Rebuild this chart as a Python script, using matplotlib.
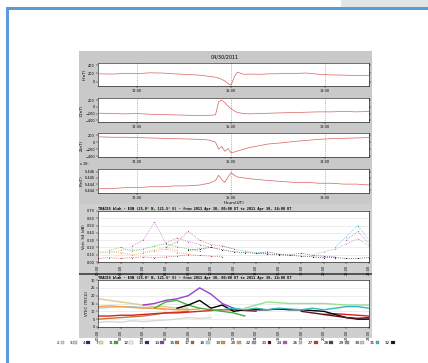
import numpy as np
import matplotlib
matplotlib.use('Agg')
from matplotlib import pyplot as plt
from matplotlib.patches import Rectangle, Patch

n = np.nan

# ---- magnetometer panels (hours UT) ----
hours = [10.8, 11.2, 11.6, 12.0, 12.4, 12.8, 13.2, 13.6, 14.0, 14.3,
         14.5, 14.6, 14.7, 14.8, 14.9, 15.0, 15.1, 15.2, 15.4, 15.6,
         15.9, 16.2, 16.6, 17.0, 17.4, 17.8, 18.2, 18.6, 19.0, 19.4]
h_nt = [190, 185, 200, 195, 215, 210, 190, 175, 160, 130, 110, 90, 60, 20, -40,
        -80, 120, 230, 180, 185, 180, 190, 195, 200, 210, 180, 165, 160, 150, 155]
d_nt = [-190, -200, -210, -200, -220, -230, -240, -250, -260, -250, -240, 150, 200, 120, 20,
        -60, -120, -170, -200, -210, -200, -190, -180, -170, -160, -150, -150, -140, -150, -140]
z_nt = [150, 140, 140, 130, 120, 110, 100, 90, 80, 60, 0, -200, -120, -260, -180,
        -300, -280, -250, -200, -150, -100, -50, -20, 20, 50, 80, 100, 110, 120, 130]
f_nt = [54437, 54437, 54438, 54438, 54439, 54439, 54440, 54440, 54441, 54443, 54446, 54452, 54447, 54444, 54450,
        54455, 54452, 54450, 54449, 54448, 54447, 54446, 54445, 54444, 54444, 54443, 54443, 54442, 54442, 54441]
mag_ticks = [12, 15, 18]
mag_labels = ['12:00', '15:00', '18:00']

# ---- GPS panels (hours of day) ----
t_day = list(range(0, 25))
day_ticks = list(range(0, 25, 2))
day_labels = [f'{h:02d}:00' for h in day_ticks]

s4 = {
    '27': [0.05, 0.06, 0.05, 0.06, 0.07, 0.06, 0.07, 0.08, 0.10, 0.09, 0.08, 0.07, n, n, n, n, n, n, n, n, n, n, n, n, n],
    '11': [n, 0.16, 0.20, 0.15, 0.18, 0.22, 0.25, 0.21, 0.18, 0.15, n, n, n, n, n, n, n, n, n, n, n, n, n, n, n],
    '24': [n, n, n, 0.22, 0.30, 0.55, 0.26, 0.33, 0.28, 0.24, 0.20, n, n, n, n, n, n, n, n, n, n, n, 0.30, 0.42, 0.25],
    '19': [0.12, 0.14, 0.13, 0.10, 0.12, 0.15, 0.18, 0.13, 0.11, n, n, n, n, n, n, n, n, n, n, n, n, n, n, n, n],
    '32': [n, n, n, n, n, n, n, n, 0.16, 0.18, 0.20, 0.17, 0.14, 0.13, 0.12, 0.11, 0.10, 0.09, 0.08, 0.07, 0.06, 0.06, 0.05, 0.05, 0.06],
    '31': [n, n, n, n, n, n, n, n, n, n, n, 0.22, 0.18, 0.15, 0.13, 0.12, n, n, n, n, n, 0.20, 0.35, 0.50, 0.30],
    '13': [n, n, n, n, n, n, n, n, n, n, n, n, n, n, 0.12, 0.14, 0.11, 0.10, 0.12, 0.09, 0.08, 0.07, n, n, n],
    '3':  [0.15, 0.13, 0.16, 0.18, 0.14, 0.17, 0.20, 0.16, n, n, n, n, n, n, n, n, n, n, n, n, n, n, n, n, n],
    '17': [n, n, n, n, n, n, 0.20, 0.28, 0.42, 0.30, 0.24, 0.22, 0.18, n, n, n, n, n, n, n, n, n, n, n, n],
    '22': [n, n, n, n, n, n, n, n, n, n, n, n, n, n, n, n, n, n, n, 0.10, 0.14, 0.18, 0.25, 0.32, 0.22],
}
s4_colors = {'27': '#d42a2a', '11': '#3aa845', '24': '#c04fc0', '19': '#e98a2e', '32': '#111111',
             '31': '#2ec0c8', '13': '#5a2470', '3': '#d2b48c', '17': '#b05a3a', '22': '#9a9aa8'}

vtec = {
    '3':  [18, 17, 16, 15, 14, 13, 13, 12, 12, n, n, n, n, n, n, n, n, n, n, n, n, n, n, n, n],
    '30': [12, 12.5, 13, 13, 12.5, 12, 11, n, n, n, n, n, n, n, n, n, n, n, n, n, n, n, n, n, n],
    '19': [13, 13.5, 13, 12.5, 12, 12, 11.5, 11, 11, 11.5, n, n, n, n, n, n, n, n, n, n, n, n, n, n, n],
    '15': [5, 5.5, 6, 6.5, 7, 8, 9, 9.5, 10, n, n, n, n, n, n, n, n, n, n, n, n, n, n, n, n],
    '2':  [3, 3.5, 3, 4, 3.5, 4, 4.5, 5, 6, 5.5, 6, n, n, n, n, n, n, n, n, n, n, n, n, n, n],
    '27': [7, 7, 7.5, 7.5, 8, 8.5, 9, 9, 9.5, 10, 10.5, 11, 11, 10.5, 10, n, n, n, n, n, 8, 8.5, 8, 7.5, 7],
    '14': [n, n, n, n, 14, 15, 17, 18, 20, 25, 21, 15, 12, n, n, n, n, n, n, n, n, n, n, n, n],
    '11': [n, n, n, n, n, 12, 16, 17, 14, 12, 11, 10, 9, 7, n, n, n, n, n, n, n, n, n, n, n],
    '32': [n, n, n, n, n, n, n, 12, 14, 17, 12, 14, 10, 11, 11, 11, 11.5, 11, 11, 10.5, 10, 8, 6, 5, 5],
    '26': [n, n, n, n, n, n, n, n, n, n, n, n, n, 12, 14, 16, 15.5, 15, 15, 15, 15, 14.5, 14, 14, 14],
    '31': [n, n, n, n, n, n, n, n, n, n, n, 11, 12, 11, 12, 11, 12, 11.5, 11, 12, 11, 12, 13, 13, 12],
    '23': [n, n, n, n, n, n, n, n, n, n, n, n, n, n, n, n, n, n, 10, 9, 8, 7, 6, 5.5, 6],
}
vtec_colors = {'3': '#e0c890', '30': '#a8d0e0', '19': '#f0a040', '15': '#c07838', '2': '#d8d8d8',
               '27': '#dc2020', '14': '#9a40c8', '11': '#40b040', '32': '#000000', '26': '#98e090',
               '31': '#30b8c0', '23': '#5a1020'}

prns = ['2', '3', '4', '7', '11', '12', '13', '14', '15', '17', '18', '19', '20', '22',
        '23', '24', '26', '27', '28', '29', '30', '31', '32']
prn_colors = ['#cfcfcf', '#d8c8a0', '#1a2a5a', '#f0e080', '#3aa845', '#f4f4f4', '#4a1a60',
              '#8040b0', '#c07838', '#b05a3a', '#b8d0e0', '#e98a2e', '#c8a878', '#9a9aa8',
              '#4a0a10', '#c04fc0', '#98e090', '#d42a2a', '#304858', '#909090', '#a8d0e0',
              '#2ec0c8', '#111111']

W, H = 428, 363


def box(x0, y0, x1, y1):
    return [x0 / W, 1 - y1 / H, (x1 - x0) / W, (y1 - y0) / H]


def rect(x0, y0, x1, y1, color, z=0):
    b = box(x0, y0, x1, y1)
    fig.add_artist(Rectangle((b[0], b[1]), b[2], b[3], transform=fig.transFigure,
                             facecolor=color, edgecolor='none', zorder=z))


fig = plt.figure(figsize=(W / 100, H / 100), dpi=100)
fig.patch.set_facecolor('white')

# page frame
rect(341, 0, 428, 7, '#e3e6e6')
rect(6, 7, 428, 10, '#5b9bd5')
rect(6, 7, 9, 363, '#5b9bd5')

# figure backgrounds
rect(79, 51, 372, 204, '#c9c9c9')
rect(79, 204, 372, 273, '#cfcfcf')
rect(79, 273, 372, 274.5, '#555555')
rect(79, 274.5, 372, 338, '#cfcfcf')

fig.text(225 / W, 1 - 57 / H, '04/30/2011', fontsize=3.5, ha='center', va='center')

mag_rows = [(63, 86, h_nt, 'H(nT)', (-100, 450), [0, 200, 400]),
            (98, 122, d_nt, 'D(nT)', (-450, 260), [-400, -200, 0, 200]),
            (133, 157, z_nt, 'Z(nT)', (-420, 260), [-400, -200, 0, 200]),
            (169, 193, f_nt, 'F(nT)', (54432, 54459), [54435, 54442, 54449, 54456])]
for y0, y1, vals, lab, lim, yt in mag_rows:
    ax = fig.add_axes(box(98, y0, 369, y1))
    ax.plot(hours, vals, color='#d86060', lw=0.5)
    ax.set_xlim(10.75, 19.4)
    ax.set_ylim(*lim)
    ax.set_xticks(mag_ticks)
    ax.set_xticklabels(mag_labels)
    ax.set_yticks(yt)
    if lab == 'F(nT)':
        ax.set_yticklabels([f'{v / 1e4:.3f}' for v in yt])
        ax.text(-0.03, 1.03, 'x 10$^4$', transform=ax.transAxes, fontsize=2.5, ha='right', va='bottom')
        ax.set_xlabel('Hours(UT)', fontsize=3, labelpad=0.5)
    ax.tick_params(labelsize=2.5, length=1.2, width=0.3, pad=1, right=True)
    ax.set_ylabel(lab, fontsize=3, labelpad=1)
    ax.grid(axis='x', ls=':', color='#777777', lw=0.5)
    for s in ax.spines.values():
        s.set_linewidth(0.4)

title_tpl = 'TRACES blah - ESN (25.0\u00b0 N, 121.5\u00b0 E) - from 2011 Apr 30, 00:00 UT to 2011 Apr 30, 24:00 UT'

# S4 scatter panel
ax5 = fig.add_axes(box(98, 211, 369, 262))
for prn, vals in s4.items():
    ax5.plot(t_day, vals, ls=':', lw=0.5, marker='.', ms=1.6, mew=0, color=s4_colors[prn])
ax5.set_xlim(0, 24)
ax5.set_ylim(0, 0.7)
ax5.set_yticks([0.0, 0.1, 0.2, 0.3, 0.4, 0.5, 0.6, 0.7])
ax5.set_yticklabels([f'{v:.2f}' for v in ax5.get_yticks()])
ax5.set_ylabel('Vert. S4 (dB)', fontsize=2.8, labelpad=1)
ax5.set_title(title_tpl, fontsize=2.6, fontweight='bold', family='monospace', loc='left', pad=1)

# VTEC line panel
ax6 = fig.add_axes(box(98, 280, 369, 327))
for prn, vals in vtec.items():
    ax6.plot(t_day, vals, lw=1.0, color=vtec_colors[prn])
ax6.set_xlim(0, 24)
ax6.set_ylim(0, 30)
ax6.set_yticks(range(0, 31, 5))
ax6.set_ylabel('VTEC (TECU)', fontsize=2.8, labelpad=1)
ax6.set_title(title_tpl, fontsize=2.6, fontweight='bold', family='monospace', loc='left', pad=1)

for ax in (ax5, ax6):
    ax.set_xticks(day_ticks)
    ax.set_xticklabels(day_labels, rotation=90)
    ax.tick_params(labelsize=2.5, length=1.2, width=0.3, pad=1)
    ax.grid(axis='y', color='#e0e0e0', lw=0.4)
    for s in ax.spines.values():
        s.set_linewidth(0.4)

handles = [Patch(facecolor=c, edgecolor='#666666', linewidth=0.2) for c in prn_colors]
fig.legend(handles, prns, loc='center', bbox_to_anchor=(226 / W, 1 - 343 / H), ncol=len(prns),
           fontsize=3, frameon=False, markerfirst=False, handlelength=0.9, handleheight=0.9,
           handletextpad=0.2, columnspacing=1.35, borderpad=0)

fig.savefig('out.png', dpi=100)
